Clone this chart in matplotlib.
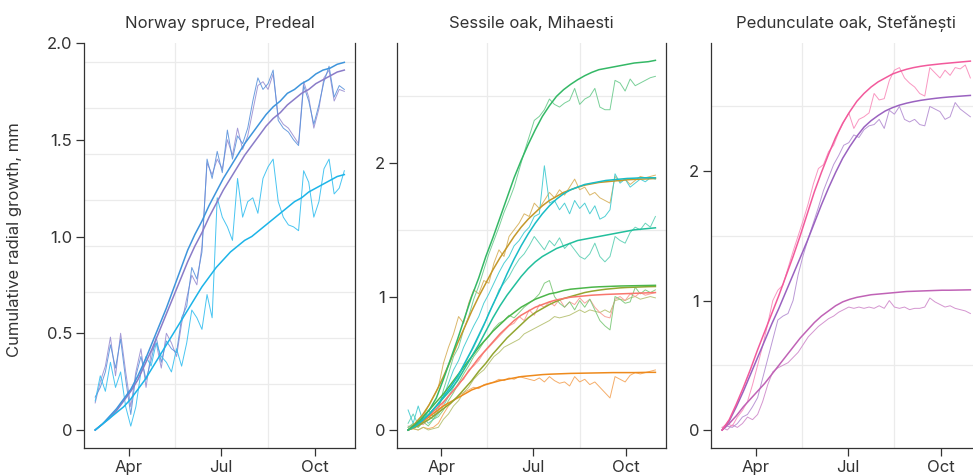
import matplotlib
matplotlib.use("Agg")
import matplotlib.pyplot as plt

plt.rcParams['font.family'] = ['Inter', 'DejaVu Sans']

# ---------------- data ----------------
days_obs = list(range(58, 304, 5))   # observed dendrometer series (day of year)
days_fit = list(range(58, 304, 7))   # fitted growth curves (day of year)

month_ticks = [91, 182, 274]
month_labels = ["Apr", "Jul", "Oct"]

# Norway spruce, Predeal
spruce_blue_obs = [0.17, 0.22, 0.30, 0.44, 0.32, 0.47, 0.26, 0.08, 0.28, 0.38,
                   0.26, 0.36, 0.48, 0.35, 0.46, 0.42, 0.40, 0.58, 0.64, 0.84,
                   0.78, 0.92, 1.40, 1.30, 1.44, 1.33, 1.55, 1.40, 1.52, 1.48,
                   1.56, 1.70, 1.82, 1.76, 1.79, 1.86, 1.60, 1.56, 1.54, 1.50,
                   1.47, 1.78, 1.70, 1.58, 1.68, 1.80, 1.88, 1.72, 1.78, 1.76]
spruce_purple_obs = [0.14, 0.25, 0.33, 0.48, 0.28, 0.50, 0.30, 0.12, 0.30, 0.42,
                     0.22, 0.40, 0.45, 0.32, 0.50, 0.45, 0.38, 0.55, 0.68, 0.80,
                     0.75, 0.95, 1.38, 1.32, 1.40, 1.35, 1.50, 1.42, 1.56, 1.45,
                     1.52, 1.65, 1.78, 1.80, 1.76, 1.84, 1.62, 1.58, 1.56, 1.52,
                     1.48, 1.80, 1.72, 1.56, 1.66, 1.82, 1.86, 1.70, 1.76, 1.75]
spruce_cyan_obs = [0.15, 0.28, 0.20, 0.35, 0.22, 0.30, 0.12, 0.02, 0.12, 0.30,
                   0.38, 0.33, 0.45, 0.38, 0.35, 0.30, 0.42, 0.33, 0.45, 0.62,
                   0.58, 0.52, 0.70, 0.58, 1.20, 1.10, 1.05, 0.98, 1.30, 1.10,
                   1.18, 1.20, 1.12, 1.30, 1.36, 1.40, 1.18, 1.10, 1.06, 1.05,
                   1.03, 1.34, 1.28, 1.10, 1.18, 1.35, 1.40, 1.22, 1.25, 1.34]
spruce_blue_fit = [0.00, 0.03, 0.07, 0.11, 0.16, 0.21, 0.28, 0.36, 0.45, 0.54,
                   0.63, 0.73, 0.83, 0.93, 1.01, 1.08, 1.16, 1.23, 1.30, 1.36,
                   1.42, 1.48, 1.53, 1.58, 1.63, 1.67, 1.70, 1.74, 1.76, 1.79,
                   1.81, 1.84, 1.86, 1.87, 1.89, 1.90]
spruce_purple_fit = [0.00, 0.03, 0.06, 0.10, 0.15, 0.20, 0.26, 0.34, 0.42, 0.51,
                     0.60, 0.69, 0.78, 0.87, 0.95, 1.02, 1.10, 1.17, 1.24, 1.30,
                     1.36, 1.42, 1.47, 1.52, 1.57, 1.61, 1.64, 1.68, 1.71, 1.74,
                     1.76, 1.79, 1.81, 1.83, 1.85, 1.86]
spruce_cyan_fit = [0.00, 0.03, 0.06, 0.09, 0.12, 0.16, 0.21, 0.26, 0.32, 0.38,
                   0.44, 0.50, 0.56, 0.62, 0.68, 0.74, 0.79, 0.84, 0.88, 0.92,
                   0.95, 0.98, 1.00, 1.03, 1.06, 1.09, 1.12, 1.15, 1.18, 1.20,
                   1.23, 1.25, 1.27, 1.29, 1.31, 1.32]

# Sessile oak, Mihaesti
sessile_dkgreen_obs = [0.02, 0.05, 0.02, 0.08, 0.10, 0.08, 0.15, 0.30, 0.42, 0.55,
                       0.62, 0.75, 0.85, 0.98, 1.08, 1.20, 1.32, 1.42, 1.52, 1.63,
                       1.72, 1.82, 1.95, 2.08, 2.20, 2.32, 2.35, 2.40, 2.48, 2.44,
                       2.42, 2.45, 2.47, 2.56, 2.44, 2.48, 2.50, 2.56, 2.42, 2.40,
                       2.40, 2.62, 2.60, 2.54, 2.63, 2.58, 2.60, 2.62, 2.64, 2.65]
sessile_gold_obs = [0.00, 0.02, 0.05, 0.10, 0.18, 0.25, 0.32, 0.50, 0.62, 0.72,
                    0.85, 0.80, 0.95, 1.05, 1.02, 1.12, 1.10, 1.25, 1.35, 1.30,
                    1.45, 1.50, 1.55, 1.62, 1.60, 1.70, 1.66, 1.72, 1.78, 1.74,
                    1.80, 1.76, 1.82, 1.88, 1.80, 1.82, 1.76, 1.78, 1.74, 1.72,
                    1.70, 1.90, 1.86, 1.88, 1.84, 1.87, 1.90, 1.89, 1.90, 1.91]
sessile_cyan_obs = [0.15, 0.05, 0.18, 0.06, 0.15, 0.10, 0.18, 0.25, 0.35, 0.45,
                    0.52, 0.62, 0.70, 0.78, 0.85, 0.95, 1.02, 1.10, 1.18, 1.25,
                    1.30, 1.38, 1.42, 1.48, 1.52, 1.60, 1.62, 1.98, 1.70, 1.72,
                    1.65, 1.70, 1.62, 1.72, 1.66, 1.70, 1.62, 1.68, 1.58, 1.60,
                    1.65, 1.92, 1.85, 1.88, 1.82, 1.85, 1.88, 1.86, 1.89, 1.88]
sessile_teal_obs = [0.05, 0.12, 0.04, 0.10, 0.05, 0.08, 0.12, 0.18, 0.25, 0.32,
                    0.40, 0.48, 0.55, 0.62, 0.70, 0.78, 0.88, 0.95, 1.05, 1.10,
                    1.15, 1.22, 1.28, 1.32, 1.38, 1.45, 1.40, 1.35, 1.42, 1.38,
                    1.44, 1.36, 1.40, 1.35, 1.30, 1.28, 1.32, 1.40, 1.30, 1.26,
                    1.30, 1.45, 1.42, 1.40, 1.48, 1.52, 1.50, 1.55, 1.52, 1.60]
sessile_green_obs = [0.02, 0.04, 0.02, 0.06, 0.03, 0.08, 0.10, 0.15, 0.22, 0.28,
                     0.35, 0.42, 0.48, 0.55, 0.60, 0.66, 0.70, 0.76, 0.80, 0.82,
                     0.86, 0.84, 0.88, 0.92, 0.95, 0.98, 1.02, 1.10, 1.12, 1.00,
                     0.95, 0.92, 0.96, 0.90, 0.97, 0.92, 0.98, 0.90, 0.82, 0.78,
                     0.75, 1.00, 0.98, 0.95, 0.96, 1.07, 1.02, 1.05, 1.03, 1.05]
sessile_red_obs = [0.03, 0.01, 0.05, 0.04, 0.08, 0.10, 0.14, 0.20, 0.26, 0.30,
                   0.35, 0.38, 0.45, 0.48, 0.52, 0.58, 0.62, 0.66, 0.70, 0.74,
                   0.78, 0.80, 0.85, 0.82, 0.90, 0.86, 0.94, 0.92, 0.96, 0.93,
                   0.98, 0.92, 0.96, 0.94, 0.99, 0.95, 0.98, 0.92, 0.88, 0.85,
                   0.84, 0.98, 1.00, 0.97, 1.02, 1.00, 1.03, 1.01, 1.02, 1.03]
sessile_olive_obs = [0.00, 0.01, 0.00, 0.02, 0.00, 0.01, 0.02, 0.08, 0.12, 0.18,
                     0.22, 0.28, 0.32, 0.38, 0.42, 0.45, 0.50, 0.55, 0.58, 0.62,
                     0.64, 0.66, 0.68, 0.72, 0.74, 0.76, 0.78, 0.80, 0.82, 0.85,
                     0.84, 0.85, 0.86, 0.88, 0.90, 0.88, 0.90, 0.89, 0.88, 0.90,
                     0.88, 0.97, 0.98, 0.97, 0.99, 1.00, 0.98, 0.99, 1.00, 0.99]
sessile_orange_obs = [0.00, 0.01, 0.00, 0.02, 0.01, 0.02, 0.05, 0.12, 0.18, 0.22,
                      0.26, 0.28, 0.30, 0.32, 0.31, 0.34, 0.35, 0.36, 0.38, 0.37,
                      0.39, 0.38, 0.40, 0.39, 0.38, 0.37, 0.39, 0.36, 0.40, 0.37,
                      0.35, 0.36, 0.33, 0.40, 0.36, 0.38, 0.34, 0.36, 0.32, 0.28,
                      0.24, 0.40, 0.38, 0.36, 0.41, 0.43, 0.42, 0.43, 0.44, 0.45]
sessile_dkgreen_fit = [0.00, 0.04, 0.09, 0.15, 0.24, 0.38, 0.53, 0.68, 0.84, 1.00,
                       1.14, 1.30, 1.44, 1.59, 1.74, 1.89, 2.02, 2.14, 2.25, 2.35,
                       2.43, 2.50, 2.55, 2.59, 2.625, 2.655, 2.68, 2.70, 2.71, 2.72,
                       2.73, 2.74, 2.75, 2.755, 2.76, 2.77]
sessile_gold_fit = [0.00, 0.05, 0.11, 0.19, 0.29, 0.40, 0.52, 0.65, 0.77, 0.89,
                    1.00, 1.10, 1.20, 1.29, 1.37, 1.45, 1.52, 1.58, 1.63, 1.68,
                    1.72, 1.75, 1.78, 1.80, 1.82, 1.835, 1.845, 1.855, 1.86, 1.865,
                    1.87, 1.875, 1.878, 1.88, 1.882, 1.885]
sessile_cyan_fit = [0.00, 0.03, 0.07, 0.12, 0.18, 0.25, 0.32, 0.40, 0.50, 0.60,
                    0.71, 0.82, 0.94, 1.05, 1.17, 1.28, 1.38, 1.47, 1.55, 1.62,
                    1.68, 1.73, 1.77, 1.80, 1.82, 1.84, 1.85, 1.86, 1.87, 1.875,
                    1.88, 1.885, 1.887, 1.89, 1.89, 1.89]
sessile_teal_fit = [0.00, 0.03, 0.07, 0.12, 0.18, 0.24, 0.30, 0.37, 0.46, 0.55,
                    0.64, 0.74, 0.84, 0.93, 1.01, 1.08, 1.15, 1.21, 1.26, 1.30,
                    1.33, 1.36, 1.38, 1.40, 1.42, 1.43, 1.44, 1.45, 1.46, 1.47,
                    1.48, 1.49, 1.50, 1.505, 1.51, 1.515]
sessile_green_fit = [0.00, 0.04, 0.09, 0.15, 0.21, 0.27, 0.34, 0.41, 0.48, 0.55,
                     0.62, 0.68, 0.74, 0.79, 0.84, 0.88, 0.92, 0.95, 0.98, 1.00,
                     1.02, 1.03, 1.045, 1.055, 1.06, 1.065, 1.07, 1.073, 1.075, 1.077,
                     1.079, 1.08, 1.081, 1.082, 1.083, 1.084]
sessile_red_fit = [0.00, 0.03, 0.07, 0.11, 0.16, 0.21, 0.27, 0.33, 0.40, 0.47,
                   0.54, 0.60, 0.66, 0.72, 0.77, 0.82, 0.86, 0.89, 0.92, 0.94,
                   0.96, 0.975, 0.985, 0.995, 1.00, 1.005, 1.01, 1.013, 1.016, 1.018,
                   1.02, 1.022, 1.024, 1.026, 1.028, 1.03]
sessile_olive_fit = [0.00, 0.02, 0.05, 0.08, 0.12, 0.16, 0.20, 0.25, 0.31, 0.37,
                     0.44, 0.50, 0.57, 0.63, 0.69, 0.74, 0.79, 0.84, 0.88, 0.91,
                     0.94, 0.965, 0.985, 1.00, 1.015, 1.03, 1.04, 1.048, 1.055, 1.06,
                     1.065, 1.068, 1.07, 1.072, 1.074, 1.075]
sessile_orange_fit = [0.00, 0.03, 0.06, 0.10, 0.14, 0.18, 0.21, 0.24, 0.27, 0.30,
                      0.32, 0.34, 0.355, 0.37, 0.38, 0.39, 0.40, 0.405, 0.41, 0.415,
                      0.418, 0.42, 0.422, 0.424, 0.425, 0.426, 0.427, 0.428, 0.429, 0.43,
                      0.43, 0.43, 0.43, 0.431, 0.432, 0.432]

# Pedunculate oak, Stefanesti
ped_pink_obs = [0.02, 0.05, 0.03, 0.10, 0.15, 0.22, 0.35, 0.50, 0.65, 0.82,
                1.00, 1.08, 1.12, 1.25, 1.38, 1.50, 1.62, 1.75, 1.90, 2.02,
                2.05, 2.15, 2.20, 2.30, 2.38, 2.45, 2.33, 2.40, 2.42, 2.45,
                2.60, 2.55, 2.56, 2.70, 2.78, 2.80, 2.72, 2.68, 2.65, 2.60,
                2.58, 2.80, 2.76, 2.72, 2.78, 2.74, 2.80, 2.79, 2.82, 2.72]
ped_purple_obs = [0.00, 0.03, 0.02, 0.05, 0.10, 0.12, 0.18, 0.25, 0.40, 0.55,
                  0.70, 0.85, 0.88, 0.90, 1.00, 1.20, 1.35, 1.48, 1.60, 1.72,
                  1.85, 1.95, 2.05, 2.12, 2.20, 2.22, 2.28, 2.26, 2.32, 2.35,
                  2.36, 2.40, 2.33, 2.47, 2.44, 2.50, 2.40, 2.38, 2.40, 2.36,
                  2.35, 2.50, 2.48, 2.46, 2.40, 2.42, 2.53, 2.48, 2.45, 2.42]
ped_magenta_obs = [0.02, 0.00, 0.04, 0.02, 0.05, 0.10, 0.08, 0.12, 0.22, 0.35,
                   0.45, 0.48, 0.50, 0.52, 0.56, 0.60, 0.66, 0.72, 0.76, 0.80,
                   0.83, 0.86, 0.88, 0.91, 0.93, 0.95, 0.94, 0.95, 0.94, 0.95,
                   0.94, 0.96, 0.94, 1.00, 0.95, 0.94, 0.95, 0.93, 0.94, 0.94,
                   0.95, 1.02, 0.99, 0.97, 0.95, 0.96, 0.94, 0.93, 0.92, 0.90]
ped_pink_fit = [0.00, 0.08, 0.20, 0.33, 0.47, 0.62, 0.76, 0.90, 1.04, 1.19,
                1.34, 1.50, 1.67, 1.84, 1.99, 2.13, 2.26, 2.37, 2.46, 2.54,
                2.60, 2.65, 2.69, 2.72, 2.75, 2.77, 2.787, 2.80, 2.81, 2.818,
                2.824, 2.83, 2.835, 2.84, 2.845, 2.85]
ped_purple_fit = [0.00, 0.07, 0.18, 0.30, 0.43, 0.56, 0.69, 0.82, 0.94, 1.07,
                  1.20, 1.33, 1.46, 1.60, 1.74, 1.87, 1.99, 2.10, 2.19, 2.27,
                  2.34, 2.39, 2.43, 2.465, 2.49, 2.51, 2.525, 2.537, 2.547, 2.555,
                  2.562, 2.568, 2.573, 2.577, 2.581, 2.585]
ped_magenta_fit = [0.00, 0.05, 0.11, 0.18, 0.24, 0.30, 0.36, 0.43, 0.50, 0.57,
                   0.64, 0.71, 0.77, 0.83, 0.88, 0.92, 0.96, 0.99, 1.01, 1.025,
                   1.035, 1.045, 1.05, 1.055, 1.06, 1.065, 1.07, 1.072, 1.074, 1.076,
                   1.078, 1.08, 1.08, 1.081, 1.082, 1.083]

# ---------------- styling / layout ----------------
panels = [
    dict(title="Norway spruce, Predeal", px=(84, 355),
         ylim=(-0.093, 2.0), yticks=[0, 0.5, 1.0, 1.5, 2.0],
         ylabels=["0", "0.5", "1.0", "1.5", "2.0"],
         ygrid=[i * 1.9 / 8 for i in range(9)],
         series=[(spruce_purple_obs, spruce_purple_fit, "#9a8fd2", "#8a7cc8"),
                 (spruce_blue_obs, spruce_blue_fit, "#5b93dc", "#3f95dc"),
                 (spruce_cyan_obs, spruce_cyan_fit, "#35bff0", "#1cb4e8")]),
    dict(title="Sessile oak, Mihaesti", px=(397, 666),
         ylim=(-0.135, 2.9), yticks=[0, 1, 2], ylabels=["0", "1", "2"],
         ygrid=[0, 0.5, 1.0, 1.5, 2.0, 2.5],
         series=[(sessile_orange_obs, sessile_orange_fit, "#f4a55a", "#ee8a1c"),
                 (sessile_olive_obs, sessile_olive_fit, "#b5c070", "#93a630"),
                 (sessile_red_obs, sessile_red_fit, "#f99a93", "#f8766d"),
                 (sessile_green_obs, sessile_green_fit, "#7cc878", "#4cb64a"),
                 (sessile_teal_obs, sessile_teal_fit, "#5cd0b4", "#22bf9c"),
                 (sessile_gold_obs, sessile_gold_fit, "#d7b05a", "#c4982a"),
                 (sessile_cyan_obs, sessile_cyan_fit, "#3fcad0", "#18bcc6"),
                 (sessile_dkgreen_obs, sessile_dkgreen_fit, "#6ccb8e", "#34b866")]),
    dict(title="Pedunculate oak, Stefănești", px=(711, 981),
         ylim=(-0.139, 2.99), yticks=[0, 1, 2], ylabels=["0", "1", "2"],
         ygrid=[0, 0.5, 1.0, 1.5, 2.0, 2.5],
         series=[(ped_magenta_obs, ped_magenta_fit, "#d08acb", "#c063b6"),
                 (ped_purple_obs, ped_purple_fit, "#b48ed2", "#9a62c0"),
                 (ped_pink_obs, ped_pink_fit, "#f98cbb", "#f25a9c")]),
]

W, H = 973, 475
fig = plt.figure(figsize=(W / 100, H / 100), dpi=100)
fig.patch.set_facecolor("white")
txt = "#333333"
axcol = "#333333"

for p in panels:
    x0, x1 = p["px"]
    y0, y1 = 43, 448
    ax = fig.add_axes([x0 / W, 1 - y1 / H, (x1 - x0) / W, (y1 - y0) / H])
    ax.set_facecolor("white")
    for obs, fit, cobs, cfit in p["series"]:
        ax.plot(days_obs, obs, color=cobs, lw=0.7, alpha=0.9, zorder=2)
    for obs, fit, cobs, cfit in p["series"]:
        ax.plot(days_fit, fit, color=cfit, lw=1.1, zorder=3)
    ax.set_xlim(47, 313.5)
    ax.set_ylim(*p["ylim"])
    ax.set_xticks(month_ticks)
    ax.set_xticklabels(month_labels)
    ax.set_xticks([91, 136.5, 182, 228, 274], minor=True)
    ax.set_yticks(p["yticks"])
    ax.set_yticklabels(p["ylabels"])
    ax.set_yticks(p["ygrid"], minor=True)
    ax.grid(False)
    ax.grid(which="minor", color="#ebebeb", lw=0.9, zorder=0)
    ax.set_axisbelow(True)
    ax.tick_params(which="major", length=6, width=0.9, color=axcol,
                   labelsize=12, labelcolor=txt, pad=2.5)
    ax.tick_params(which="minor", length=0)
    for s in ["left", "bottom", "right"]:
        ax.spines[s].set_color(axcol)
        ax.spines[s].set_linewidth(0.9)
    ax.spines["top"].set_visible(False)
    ax.set_title(p["title"], fontsize=12, color=txt, pad=11)

fig.text(15 / W, 1 - 240 / H, "Cumulative radial growth, mm", rotation=90,
         ha="center", va="center", fontsize=12, color=txt)

fig.savefig("out.png", dpi=100, facecolor="white")
